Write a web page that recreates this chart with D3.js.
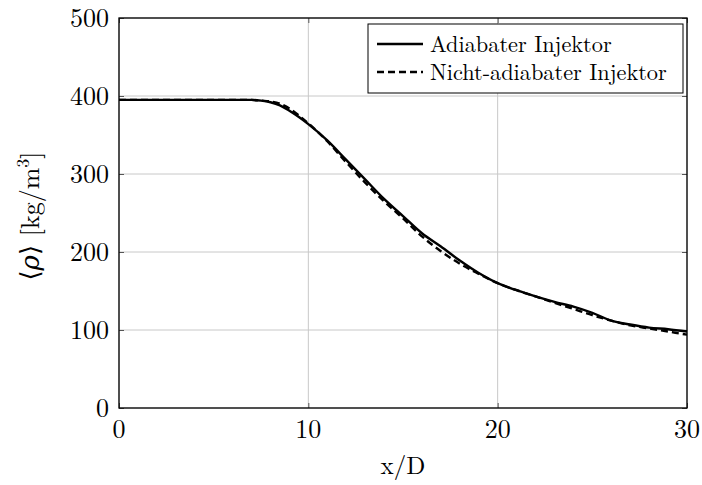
<!DOCTYPE html>
<html>
<head>
<meta charset="utf-8">
<script src="https://cdn.jsdelivr.net/npm/d3@7"></script>
<style>
    body { margin: 0; background: #fff; }
    #chart { width: 702px; height: 485px; }
</style>
</head>
<body>
<div id="chart"></div>
<script>

// density profiles along the jet axis
var xd = [0, 2, 4, 6, 7, 7.5, 8, 8.5, 9, 9.5, 10, 11, 12, 13, 14, 15, 16, 17, 18, 19, 20,
          21, 22, 23, 24, 25, 26, 27, 28, 29, 30];
var rhoAdiabatic = [395, 395, 395, 395, 395, 394, 392, 388, 381, 373, 364, 343, 318, 293, 268, 246, 224, 207, 189, 173, 160,
                    151, 143, 136, 130, 122, 112, 107, 103, 101, 98];
var rhoNonAdiabatic = [395, 395, 395, 395, 395, 394, 393, 390, 384, 375, 365, 342, 315, 289, 265, 243, 220, 201, 185, 172, 160,
                       151, 143, 135, 127, 119, 112, 106, 102, 98, 94];

var xTicks = [0, 10, 20, 30];
var yTicks = [0, 100, 200, 300, 400, 500];
var seriesNames = ["Adiabater Injektor", "Nicht-adiabater Injektor"];

var width = 702;
var height = 485;
var margin = {top: 18, left: 119, right: 15, bottom: 77};
var serif = "'Latin Modern Roman', 'DejaVu Serif', serif";

var svg = d3.select("#chart")
    .append("svg")
    .attr("width", width)
    .attr("height", height);

var xScale = d3.scaleLinear()
    .domain([0, 30])
    .range([margin.left, width - margin.right]);

var yScale = d3.scaleLinear()
    .domain([0, 500])
    .range([height - margin.bottom, margin.top]);

// grid
svg.append("g").selectAll("line")
    .data(xTicks)
    .enter()
    .append("line")
        .attr("x1", function(d) { return xScale(d); })
        .attr("x2", function(d) { return xScale(d); })
        .attr("y1", yScale(0))
        .attr("y2", yScale(500))
        .attr("stroke", "#c8c8c8")
        .attr("stroke-width", 1);

svg.append("g").selectAll("line")
    .data(yTicks)
    .enter()
    .append("line")
        .attr("x1", xScale(0))
        .attr("x2", xScale(30))
        .attr("y1", function(d) { return yScale(d); })
        .attr("y2", function(d) { return yScale(d); })
        .attr("stroke", "#c8c8c8")
        .attr("stroke-width", 1);

// axes: ticks pointing inward, labels drawn separately
svg.append("g")
    .attr("transform", `translate(0,${yScale(0)})`)
    .call(d3.axisBottom(xScale).tickValues(xTicks).tickSize(-5).tickFormat(""));

svg.append("g")
    .attr("transform", `translate(0,${yScale(500)})`)
    .call(d3.axisTop(xScale).tickValues(xTicks).tickSize(-5).tickFormat(""));

svg.append("g")
    .attr("transform", `translate(${xScale(0)},0)`)
    .call(d3.axisLeft(yScale).tickValues(yTicks).tickSize(-5).tickFormat(""));

svg.append("g")
    .attr("transform", `translate(${xScale(30)},0)`)
    .call(d3.axisRight(yScale).tickValues(yTicks).tickSize(-5).tickFormat(""));

svg.selectAll(".domain").remove();
svg.selectAll(".tick line").attr("stroke", "#555").attr("stroke-width", 1);

svg.append("g").selectAll("text")
    .data(xTicks)
    .enter()
    .append("text")
        .attr("x", function(d) { return xScale(d); })
        .attr("y", yScale(0) + 30)
        .attr("text-anchor", "middle")
        .attr("font-size", 26)
        .style("font-family", serif)
        .text(function(d) { return d; });

svg.append("g").selectAll("text")
    .data(yTicks)
    .enter()
    .append("text")
        .attr("x", xScale(0) - 10)
        .attr("y", function(d) { return yScale(d) + 9; })
        .attr("text-anchor", "end")
        .attr("font-size", 26)
        .style("font-family", serif)
        .text(function(d) { return d; });

// curves
var line = d3.line()
    .x(function(d) { return xScale(d[0]); })
    .y(function(d) { return yScale(d[1]); })
    .curve(d3.curveMonotoneX);

svg.append("path")
    .datum(d3.zip(xd, rhoNonAdiabatic))
    .attr("d", line)
    .attr("fill", "none")
    .attr("stroke", "#000")
    .attr("stroke-width", 2.4)
    .attr("stroke-dasharray", "7,4");

svg.append("path")
    .datum(d3.zip(xd, rhoAdiabatic))
    .attr("d", line)
    .attr("fill", "none")
    .attr("stroke", "#000")
    .attr("stroke-width", 2.4);

// frame
svg.append("rect")
    .attr("x", xScale(0))
    .attr("y", yScale(500))
    .attr("width", xScale(30) - xScale(0))
    .attr("height", yScale(0) - yScale(500))
    .attr("fill", "none")
    .attr("stroke", "#000")
    .attr("stroke-width", 1.3);

// legend
var legend = svg.append("g");

legend.append("rect")
    .attr("x", 368)
    .attr("y", 24)
    .attr("width", 315)
    .attr("height", 69)
    .attr("fill", "#fff")
    .attr("stroke", "#000")
    .attr("stroke-width", 1);

var legendRows = legend.selectAll("g.row")
    .data(seriesNames)
    .enter()
    .append("g")
        .attr("class", "row")
        .attr("transform", function(d, i) { return `translate(377,${44 + i * 28})`; });

legendRows.append("line")
    .attr("x1", 0)
    .attr("x2", 46)
    .attr("stroke", "#000")
    .attr("stroke-width", 2.4)
    .attr("stroke-dasharray", function(d, i) { return i === 0 ? null : "7,4"; });

legendRows.append("text")
    .attr("x", 53)
    .attr("y", 7.5)
    .attr("font-size", 22.3)
    .style("font-family", serif)
    .text(function(d) { return d; });

// axis titles
svg.append("text")
    .attr("x", (xScale(0) + xScale(30)) / 2)
    .attr("y", 474)
    .attr("text-anchor", "middle")
    .attr("font-size", 25)
    .style("font-family", serif)
    .text("x/D");

var yTitle = svg.append("text")
    .attr("transform", `translate(39,216) rotate(-90)`)
    .attr("text-anchor", "middle")
    .attr("font-size", 26)
    .style("font-family", serif);

yTitle.append("tspan").text("⟨");
yTitle.append("tspan").attr("font-style", "italic").text("ρ");
yTitle.append("tspan").text("⟩ [kg/m");
yTitle.append("tspan").attr("font-size", 18).attr("dy", -10).text("3");
yTitle.append("tspan").attr("dy", 10).text("]");

</script>
</body>
</html>
